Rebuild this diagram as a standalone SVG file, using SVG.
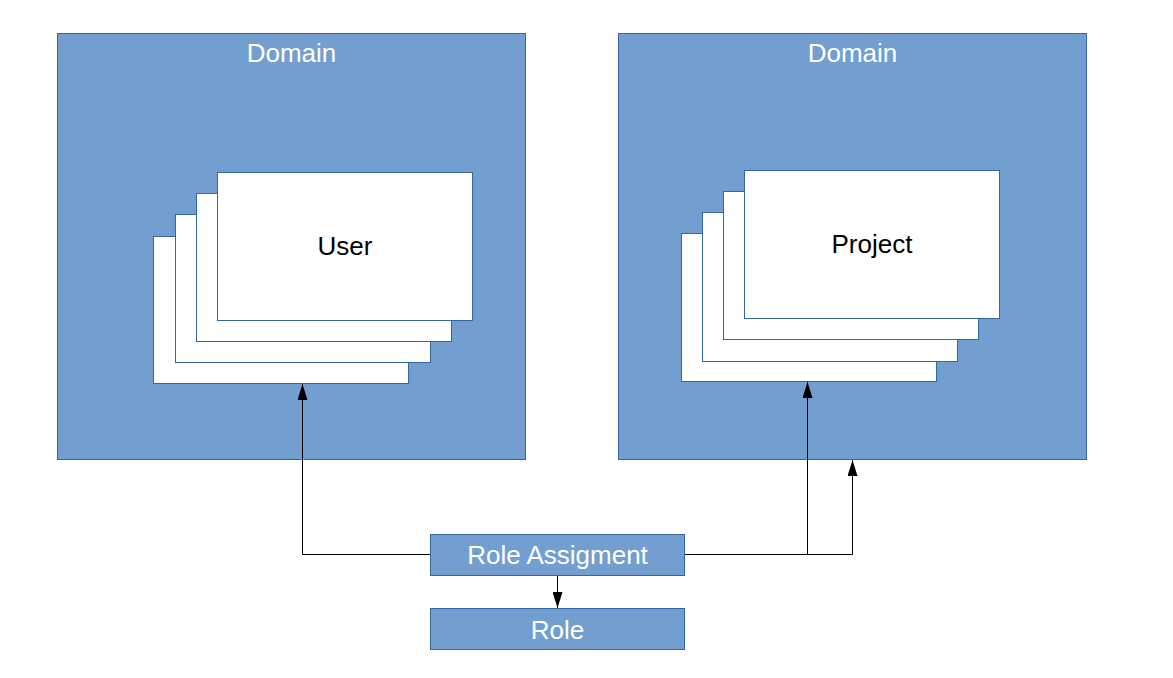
<svg xmlns="http://www.w3.org/2000/svg" width="1173" height="678" viewBox="0 0 1173 678">
<style>
.blue{fill:#729fcf;stroke:#3465a4;stroke-width:1}
.card{fill:#ffffff;stroke:#3465a4;stroke-width:1}
.wt{font-family:"Liberation Sans",Arial,sans-serif;font-size:26px;fill:#ffffff;text-anchor:middle}
.bt{font-family:"Liberation Sans",Arial,sans-serif;font-size:26px;fill:#000000;text-anchor:middle}
.conn{fill:none;stroke:#000000;stroke-width:1}
</style>
<defs>
<marker id="arr" viewBox="0 0 16 10" refX="16" refY="5" markerWidth="16" markerHeight="10" markerUnits="userSpaceOnUse" orient="auto">
<path d="M0,0 L16,5 L0,10 Z" fill="#000"/>
</marker>
</defs>
<rect width="1173" height="678" fill="#ffffff"/>
<g id="domain-left">
<rect class="blue" x="57.5" y="33.5" width="468" height="426"/>
<text class="wt" x="291.5" y="62">Domain</text>
</g>
<g id="domain-right">
<rect class="blue" x="618.5" y="33.5" width="468" height="426"/>
<text class="wt" x="852.5" y="62">Domain</text>
</g>
<g id="user-stack">
<rect class="card" x="153.5" y="236.5" width="255" height="147"/>
<rect class="card" x="175.5" y="214.5" width="255" height="148"/>
<rect class="card" x="196.5" y="193.5" width="255" height="148"/>
<rect class="card" x="217.5" y="172.5" width="255" height="148"/>
<text class="bt" x="345" y="255">User</text>
</g>
<g id="project-stack">
<rect class="card" x="681.5" y="233.5" width="255" height="148"/>
<rect class="card" x="702.5" y="212.5" width="255" height="149"/>
<rect class="card" x="723.5" y="191.5" width="255" height="148"/>
<rect class="card" x="744.5" y="170.5" width="255" height="148"/>
<text class="bt" x="872" y="253">Project</text>
</g>
<g id="role-assignment">
<rect class="blue" x="430.5" y="534.5" width="254" height="41"/>
<text class="wt" x="557.5" y="564">Role Assigment</text>
</g>
<g id="role">
<rect class="blue" x="430.5" y="608.5" width="254" height="41"/>
<text class="wt" x="557.5" y="639">Role</text>
</g>
<g id="connectors">
<path class="conn" d="M430,554.5 H302.5 V384" marker-end="url(#arr)"/>
<path class="conn" d="M685,554.5 H807.5 V382" marker-end="url(#arr)"/>
<path class="conn" d="M807.5,554.5 H852.5 V460" marker-end="url(#arr)"/>
<path class="conn" d="M557.5,576 V608" marker-end="url(#arr)"/>
</g>
</svg>
